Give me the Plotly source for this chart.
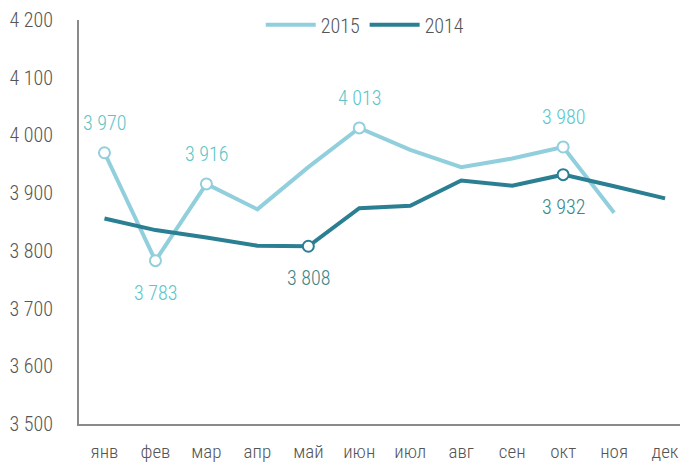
import plotly.graph_objects as go

months = ["янв", "фев", "мар", "апр", "май", "июн", "июл", "авг", "сен", "окт", "ноя", "дек"]
s2015 = [3970, 3783, 3916, 3872, 3945, 4013, 3975, 3945, 3960, 3980, 3866, None]
s2014 = [3856, 3836, 3823, 3809, 3808, 3874, 3878, 3922, 3913, 3932, 3912, 3891]

marked2015 = {"янв": 3970, "фев": 3783, "мар": 3916, "июн": 4013, "окт": 3980}
above2015 = {"янв": True, "фев": False, "мар": True, "июн": True, "окт": True}
marked2014 = {"май": 3808, "окт": 3932}

c2015 = "#92cfdd"
c2015_txt = "#5cc5c8"
c2014 = "#2b7f92"
c2014_txt = "#3a8688"
font_fam = "Roboto Condensed, Liberation Sans Narrow, Roboto, sans-serif"

fig = go.Figure()
fig.add_trace(go.Scatter(x=months, y=s2015, mode="lines", name="2015",
                         line=dict(color=c2015, width=4), hoverinfo="skip"))
fig.add_trace(go.Scatter(x=months, y=s2014, mode="lines", name="2014",
                         line=dict(color=c2014, width=4), hoverinfo="skip"))
fig.add_trace(go.Scatter(x=list(marked2015.keys()), y=list(marked2015.values()), mode="markers",
                         marker=dict(size=11, color="white", line=dict(color=c2015, width=2)),
                         showlegend=False, hoverinfo="skip"))
fig.add_trace(go.Scatter(x=list(marked2014.keys()), y=list(marked2014.values()), mode="markers",
                         marker=dict(size=11, color="white", line=dict(color=c2014, width=2)),
                         showlegend=False, hoverinfo="skip"))

def fmt(v):
    return f"{v:,}".replace(",", " ")

for m, v in marked2015.items():
    fig.add_annotation(x=m, y=v, text=fmt(v), showarrow=False,
                       yshift=30 if above2015[m] else -32,
                       font=dict(color=c2015_txt, size=20, family=font_fam, weight=300))
for m, v in marked2014.items():
    fig.add_annotation(x=m, y=v, text=fmt(v), showarrow=False, yshift=-32,
                       font=dict(color=c2014_txt, size=20, family=font_fam, weight=300))

fig.update_layout(
    width=688, height=464,
    margin=dict(l=71, r=8, t=12, b=48, autoexpand=False),
    paper_bgcolor="white", plot_bgcolor="white",
    separators=", ",
    font=dict(family=font_fam, color="#555555", size=20, weight=300),
    showlegend=True,
    legend=dict(orientation="h", x=0.47, xanchor="center", y=0.988, yanchor="middle",
                font=dict(size=20, color="#555555"), itemwidth=50, bgcolor="rgba(0,0,0,0)"),
    xaxis=dict(type="category", range=[-0.5, 11.45], showgrid=False, showline=True,
               linecolor="#8a8a8a", linewidth=2, ticks="", tickfont=dict(size=19),
               ticklabelstandoff=9, fixedrange=True, automargin=False),
    yaxis=dict(range=[3500, 4200], dtick=100, tickformat=",d", showgrid=False, showline=True,
               linecolor="#8a8a8a", linewidth=2, ticks="", ticklabelstandoff=20,
               tickfont=dict(size=20), zeroline=False, automargin=False),
)

fig.write_html("out.html")
